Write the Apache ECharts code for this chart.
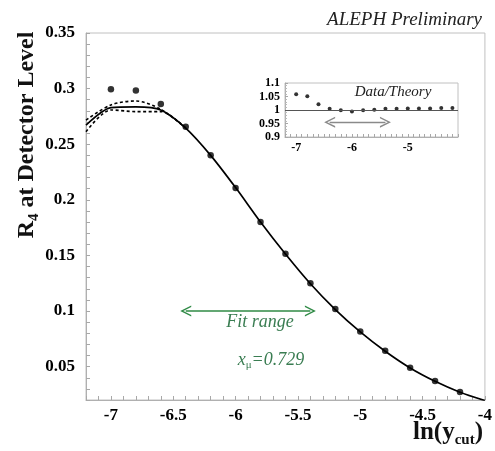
<!DOCTYPE html>
<html><head><meta charset="utf-8">
<script src="https://cdn.jsdelivr.net/npm/echarts@6/dist/echarts.min.js"></script>
<style>html,body{margin:0;padding:0;background:#fff}#c{width:495px;height:451px}</style>
</head><body><div id="c"></div>
<script>
// ---- data ----
const dataX = [-7.0,-6.8,-6.6,-6.4,-6.2,-6.0,-5.8,-5.6,-5.4,-5.2,-5.0,-4.8,-4.6,-4.4,-4.2];
const dataY = [0.2995,0.2982,0.2862,0.2657,0.2400,0.2107,0.1800,0.1514,0.1249,0.1018,0.0816,0.0642,0.0491,0.0371,0.0272];
const theoryX = [-7.2,-7.0,-6.8,-6.6,-6.4,-6.2,-6.0,-5.8,-5.6,-5.4,-5.2,-5.0,-4.8,-4.6,-4.4,-4.2,-4.0];
const theoryY = [0.2672,0.2829,0.2835,0.2808,0.2645,0.2400,0.2110,0.1800,0.1512,0.1245,0.1013,0.0812,0.0638,0.0488,0.0368,0.0270,0.0195];
const bandX = [-7.2,-7.0,-6.8,-6.6,-6.4];
const upperY = [0.2717,0.2853,0.2889,0.2814,0.2645];
const lowerY = [0.2612,0.2808,0.2793,0.2793,0.2645];
const ratioY = [1.058,1.051,1.021,1.005,0.999,0.994,0.999,1.001,1.005,1.005,1.006,1.006,1.006,1.007,1.007];
const fitRange = [-6.4,-5.4];
const fitArrowY = 0.1;
const insetArrowY = 0.955;
const mainXTicks = {min:-7.2, max:-4.0, step:0.1, labelStep:0.5};
const mainYTicks = {min:0.02, max:0.35, step:0.01, labelStep:0.05};
const insetXTicks = {min:-7.2, max:-4.1, step:0.1, labelStep:1};
const insetYTicks = {min:0.9, max:1.1, step:0.05};

// ---- helpers ----
const serif = 'Liberation Serif';
const isMult = (v, s) => Math.abs(v / s - Math.round(v / s)) < 1e-6;
const zip = (xs, ys) => ys.map((y, i) => [xs[i], y]);
const green = '#2f8a45';
const chevron = 'path://M0,10 L5,0 L10,10 L8.6,10 L5,2.8 L1.4,10 Z';

const chart = echarts.init(document.getElementById('c'), null, {renderer: 'canvas'});

const axisLine = {show: true, lineStyle: {color: '#b0b0b0', width: 1}};
const tickStyle = {show: true, inside: true, length: 4, lineStyle: {color: '#a8a8a8'}};

const option = {
  animation: false,
  backgroundColor: '#fff',
  grid: [
    {left: 86, top: 33, right: 10, bottom: 51, show: true, borderColor: '#c0c0c0', borderWidth: 1},
    {left: 285, top: 83, width: 173, height: 54, show: true, borderColor: '#c0c0c0', borderWidth: 1}
  ],
  xAxis: [
    {type: 'value', gridIndex: 0, min: mainXTicks.min, max: mainXTicks.max, interval: mainXTicks.step,
     axisLine, axisTick: tickStyle, splitLine: {show: false},
     axisLabel: {margin: 7, color: '#000', fontFamily: serif, fontWeight: 'bold', fontSize: 17,
       formatter: v => isMult(v, mainXTicks.labelStep) ? String(+v.toFixed(1)) : ''}},
    {type: 'value', gridIndex: 1, min: insetXTicks.min, max: insetXTicks.max, interval: insetXTicks.step,
     axisLine, axisTick: {show: true, inside: true, length: 3, lineStyle: {color: '#a8a8a8'}}, splitLine: {show: false},
     axisLabel: {margin: 5, color: '#000', fontFamily: serif, fontWeight: 'bold', fontSize: 12,
       formatter: v => isMult(v, insetXTicks.labelStep) ? String(+v.toFixed(1)) : ''}}
  ],
  yAxis: [
    {type: 'value', gridIndex: 0, min: mainYTicks.min, max: mainYTicks.max, interval: mainYTicks.step,
     axisLine, axisTick: tickStyle, splitLine: {show: false},
     axisLabel: {margin: 11, color: '#000', fontFamily: serif, fontWeight: 'bold', fontSize: 17,
       formatter: v => isMult(v, mainYTicks.labelStep) ? String(+v.toFixed(2)) : ''}},
    {type: 'value', gridIndex: 1, min: insetYTicks.min, max: insetYTicks.max, interval: insetYTicks.step,
     axisLine, axisTick: {show: true, inside: true, length: 3, lineStyle: {color: '#a8a8a8'}},
     minorTick: {show: true, splitNumber: 5, length: 2, lineStyle: {color: '#b8b8b8'}},
     splitLine: {show: false},
     axisLabel: {margin: 5, color: '#000', fontFamily: serif, fontWeight: 'bold', fontSize: 12, lineHeight: 10,
       formatter: v => String(+v.toFixed(2))}}
  ],
  series: [
    {type: 'line', xAxisIndex: 0, yAxisIndex: 0, data: zip(bandX, upperY), showSymbol: false, smooth: 0.3,
     lineStyle: {color: '#000', width: 1.6, type: [3, 2.5]}, silent: true},
    {type: 'line', xAxisIndex: 0, yAxisIndex: 0, data: zip(bandX, lowerY), showSymbol: false, smooth: 0.3,
     lineStyle: {color: '#000', width: 1.6, type: [3, 2.5]}, silent: true},
    {type: 'line', xAxisIndex: 0, yAxisIndex: 0, data: zip(theoryX, theoryY), showSymbol: false, smooth: 0.25,
     lineStyle: {color: '#000', width: 1.7}, silent: true},
    {type: 'scatter', xAxisIndex: 0, yAxisIndex: 0, data: zip(dataX, dataY), symbol: 'circle', symbolSize: 6.5,
     itemStyle: {color: '#000'}, silent: true,
     markLine: {silent: true, symbol: [chevron, chevron], symbolSize: 11, label: {show: false},
       lineStyle: {color: green, width: 1.6, type: 'solid'}, emphasis: {disabled: true},
       data: [[{coord: [fitRange[0], fitArrowY]}, {coord: [fitRange[1], fitArrowY]}]]}},
    {type: 'scatter', xAxisIndex: 1, yAxisIndex: 1, data: zip(dataX, ratioY), symbol: 'circle', symbolSize: 4,
     itemStyle: {color: '#000'}, silent: true,
     markLine: {silent: true, symbol: [chevron, chevron], symbolSize: 11, label: {show: false},
       lineStyle: {color: '#8a8a8a', width: 1.3, type: 'solid'}, emphasis: {disabled: true},
       data: [[{coord: [fitRange[0], insetArrowY]}, {coord: [fitRange[1], insetArrowY]}]]}},
    {type: 'line', xAxisIndex: 1, yAxisIndex: 1, data: [], silent: true,
     markLine: {silent: true, symbol: ['none', 'none'], label: {show: false},
       lineStyle: {color: '#555', width: 1, type: 'solid'}, emphasis: {disabled: true},
       data: [{yAxis: 1}]}}
  ],
  graphic: [
    {type: 'text', right: 13, top: 10, style: {text: 'ALEPH Preliminary', font: 'italic 19px "Liberation Serif"', fill: '#222'}},
    {type: 'text', x: 27, y: 135, rotation: Math.PI / 2,
     style: {text: '{r|R}{s|4}{r| at Detector Level}', align: 'center', verticalAlign: 'middle', fill: '#111',
       rich: {r: {font: 'bold 24px "Liberation Serif"', lineHeight: 30, verticalAlign: 'middle'},
              s: {font: 'bold 15px "Liberation Serif"', lineHeight: 15, verticalAlign: 'bottom'}}}},
    {type: 'text', right: 12, top: 420,
     style: {text: '{a|ln(y}{b|cut}{a|)}', fill: '#111',
       rich: {a: {font: 'bold 25px "Liberation Serif"', lineHeight: 30, verticalAlign: 'middle'},
              b: {font: 'bold 15px "Liberation Serif"', lineHeight: 15, verticalAlign: 'bottom'}}}},
    {type: 'text', x: 260, y: 322,
     style: {text: 'Fit range', font: 'italic 18px "Liberation Serif"', fill: '#3a7d52', align: 'center', verticalAlign: 'middle'}},
    {type: 'text', x: 271, y: 360,
     style: {text: '{a|x}{b|\u03bc}{a|=0.729}', align: 'center', verticalAlign: 'middle', fill: '#3a7d52',
       rich: {a: {font: 'italic 18px "Liberation Serif"', lineHeight: 22, verticalAlign: 'middle', fill: '#3a7d52'},
              b: {font: '11px "Liberation Serif"', lineHeight: 11, verticalAlign: 'bottom', fill: '#3a7d52'}}}},
    {type: 'text', x: 393, y: 92,
     style: {text: 'Data/Theory', font: 'italic 15px "Liberation Serif"', fill: '#222', align: 'center', verticalAlign: 'middle'}}
  ]
};
chart.setOption(option);
</script>
</body></html>
